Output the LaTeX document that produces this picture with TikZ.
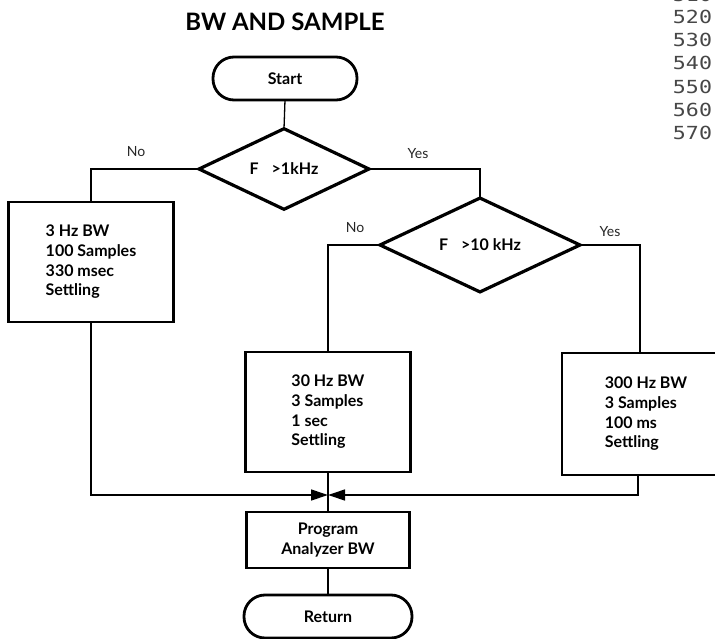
\documentclass[tikz,border=0pt]{standalone}
\usepackage{fontspec}
\setmainfont{Lato}
\newfontfamily\listingfont{DejaVu Sans Mono}
\usetikzlibrary{shapes.geometric,arrows.meta}

\begin{document}
\begin{tikzpicture}[x=1pt,y=-1pt,
  every node/.style={inner sep=0pt, outer sep=0pt},
  flowtext/.style={font=\fontsize{16}{19.7}\selectfont\bfseries},
  heading/.style={font=\fontsize{24}{28}\selectfont\bfseries},
  terminal/.style={flowtext, draw, line width=2.8pt, rounded corners=21pt,
    minimum width=144pt, minimum height=43pt},
  decision/.style={flowtext, draw, shape=diamond, line width=3.2pt},
  process/.style={flowtext, draw, line width=2.8pt, align=left},
  conn/.style={line width=1.3pt},
  merge/.style={-{Triangle[length=17pt,width=11pt]}},
  branch/.style={font=\fontsize{14}{16}\selectfont, text=black!85},
  lineno/.style={font=\listingfont\fontsize{18}{20}\selectfont, text=black!72,
    xscale=1.2, transform shape, anchor=east}
]
\clip (0,0) rectangle (715,639);
\fill[white] (0,0) rectangle (715,639);

% program listing line numbers
\foreach \n/\yy in {510/-5,520/17,530/40,540/63,550/87,560/110,570/133}
  \node[lineno] (ln\n) at (712,\yy) {\n};

% title
\node[heading] (title) at (285,22) {BW AND SAMPLE};

% flowchart blocks
\node[terminal] (start) at (285,78.5) {Start};
\node[decision, minimum width=170pt, minimum height=64pt] (d1) at (284,169)
  {F\hspace{13pt}>1kHz};
\node[decision, minimum width=200pt, minimum height=76pt] (d2) at (480,245)
  {F\hspace{13pt}>10 kHz};
\node[process, minimum width=165pt, minimum height=120pt] (b1) at (91,262)
  {3 Hz BW\\100 Samples\\330 msec\\Settling};
\node[process, minimum width=165pt, minimum height=120pt] (b2) at (328,412)
  {30 Hz BW\\3 Samples\\1 sec\\Settling};
\node[process, minimum width=168pt, minimum height=122pt] (b3) at (646,414)
  {300 Hz BW\\3 Samples\\100 ms\\Settling};
\node[process, align=center, minimum width=163pt, minimum height=56pt] (prog) at (328,540)
  {Program\\Analyzer BW};
\node[terminal, minimum width=168pt] (ret) at (328,616.5) {Return};

% branch labels
\node[branch] (no1) at (136,152) {No};
\node[branch] (yes1) at (418,154) {Yes};
\node[branch] (no2) at (355,228) {No};
\node[branch] (yes2) at (610,232) {Yes};

% connectors
\coordinate (j) at (328,495);
\draw[conn] (start.south) -- (d1.north);
\draw[conn] (d1.east) -| (d2.north);
\draw[conn] (d1.west) -| (b1.north);
\draw[conn] (d2.west) -| (b2.north);
\draw[conn] (d2.east) -| ([xshift=-6pt]b3.north);
\draw[conn] (b2.south) -- (prog.north);
\draw[conn, merge] (b1.south) |- (j);
\draw[conn, merge] ([xshift=-8pt]b3.south) |- (j);
\draw[conn] (prog.south) -- (ret.north);
\end{tikzpicture}
\end{document}
